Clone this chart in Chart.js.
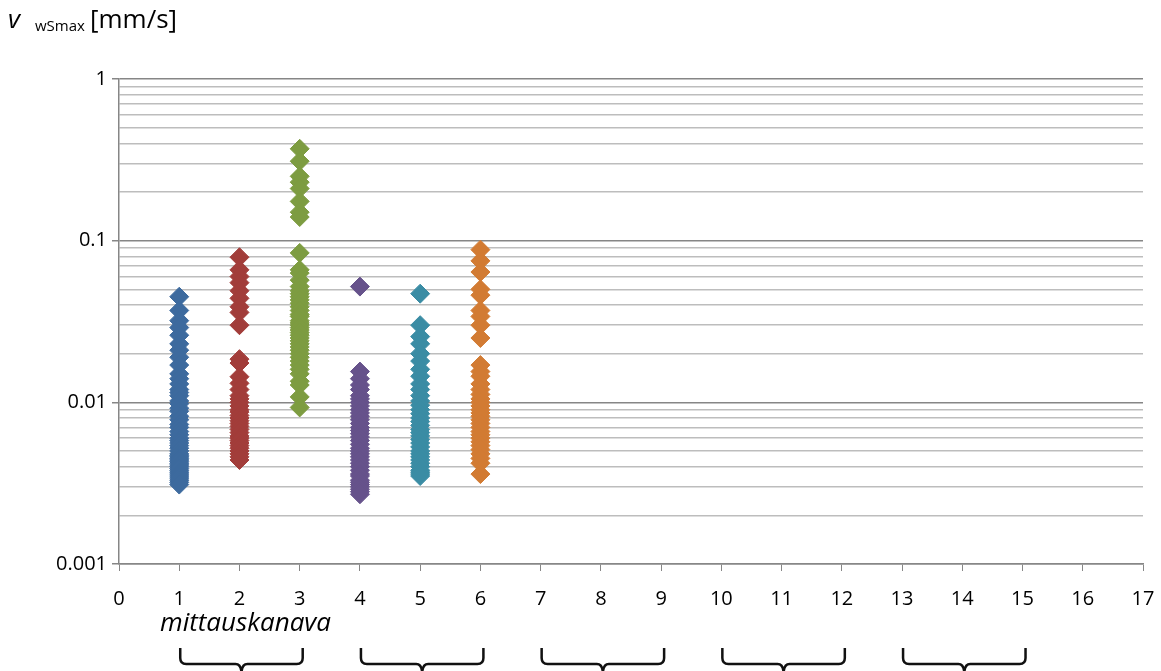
<!DOCTYPE html>
<html>
<head>
<meta charset="utf-8">
<script src="https://cdn.jsdelivr.net/npm/chart.js@4"></script>
<style>
  html, body { margin: 0; padding: 0; background: #fff; }
  canvas { display: block; }
</style>
</head>
<body>
<canvas id="chart" width="1161" height="671"></canvas>
<script>
const ch1 = [0.045, 0.037, 0.032, 0.029, 0.026, 0.023, 0.021, 0.019, 0.017, 0.015, 0.014, 0.013,
  0.012, 0.0115, 0.011, 0.0102, 0.0098, 0.0092, 0.0088, 0.0082, 0.0078, 0.0073, 0.007, 0.0066,
  0.0063, 0.006, 0.0058, 0.0056, 0.0054, 0.0052, 0.005, 0.0048, 0.0047, 0.0046, 0.0045, 0.0044,
  0.0043, 0.0042, 0.0041, 0.004, 0.0039, 0.0038, 0.0037, 0.0036, 0.0035, 0.0034, 0.0033, 0.0032, 0.0031];
const ch2 = [0.079, 0.066, 0.06, 0.055, 0.049, 0.044, 0.039, 0.036, 0.030,
  0.0185, 0.0175, 0.0144, 0.0131, 0.012, 0.011, 0.0105, 0.01, 0.0095, 0.009, 0.0087, 0.0083,
  0.008, 0.0077, 0.0074, 0.0071, 0.0068, 0.0065, 0.0062, 0.006, 0.0058, 0.0056, 0.0054,
  0.0052, 0.005, 0.0048, 0.0046, 0.0044];
const ch3 = [0.37, 0.31, 0.25, 0.23, 0.21, 0.175, 0.15, 0.14, 0.084, 0.066, 0.063, 0.057,
  0.052, 0.049, 0.047, 0.045, 0.043, 0.041, 0.039, 0.037, 0.035, 0.034, 0.032, 0.031, 0.03,
  0.029, 0.028, 0.027, 0.026, 0.025, 0.024, 0.023, 0.022, 0.021, 0.02, 0.019, 0.018, 0.017,
  0.016, 0.015, 0.0135, 0.0128, 0.0108, 0.0093];
const ch4 = [0.052, 0.0155, 0.014, 0.0128, 0.012, 0.011, 0.0105, 0.01, 0.0095, 0.009, 0.0086,
  0.0082, 0.0078, 0.0074, 0.007, 0.0067, 0.0064, 0.0061, 0.0058, 0.0055, 0.0052, 0.005, 0.0048,
  0.0046, 0.0044, 0.0042, 0.004, 0.0038, 0.0036, 0.0035, 0.0033, 0.0032, 0.0031, 0.003, 0.0029,
  0.0028, 0.0027];
const ch5 = [0.047, 0.030, 0.0255, 0.023, 0.02, 0.018, 0.016, 0.0145, 0.013, 0.012, 0.011,
  0.0102, 0.0096, 0.009, 0.0085, 0.008, 0.0076, 0.0072, 0.0068, 0.0065, 0.0062, 0.0059, 0.0056,
  0.0053, 0.005, 0.0048, 0.0046, 0.0044, 0.0042, 0.004, 0.0038, 0.0037, 0.0036, 0.0035];
const ch6 = [0.088, 0.075, 0.064, 0.05, 0.046, 0.037, 0.034, 0.03, 0.025,
  0.017, 0.0155, 0.0145, 0.013, 0.012, 0.0112, 0.0105, 0.01, 0.0095, 0.009, 0.0086, 0.0082,
  0.0078, 0.0074, 0.007, 0.0066, 0.0063, 0.006, 0.0057, 0.0054, 0.0051, 0.0048, 0.0045,
  0.0042, 0.0036];

const channels = [1, 2, 3, 4, 5, 6];
const channelValues = [ch1, ch2, ch3, ch4, ch5, ch6];
const colors = ['#3d6a9e', '#a23d3a', '#7d9c41', '#66528b', '#3a8ca4', '#d27b33'];

const yMin = 0.001;
const yMax = 1;
const xMin = 0;
const xMax = 17;
const braceGroups = [[1, 3], [4, 6], [7, 9], [10, 12], [13, 15]];
const axisNote = 'mittauskanava';

const FONT = '"Open Sans", "DejaVu Sans", sans-serif';
const isDecade = v => Math.abs(Math.log10(v) - Math.round(Math.log10(v))) < 1e-9;

const extras = {
  id: 'extras',
  afterDraw(chart) {
    const { ctx } = chart;
    const x = chart.scales.x;
    ctx.save();
    ctx.fillStyle = '#000';
    ctx.textBaseline = 'alphabetic';
    // y axis title
    ctx.font = 'italic 26px ' + FONT;
    ctx.fillText('v', 8, 28);
    ctx.font = '15px ' + FONT;
    ctx.fillText('wSmax', 35, 31);
    ctx.font = '26px ' + FONT;
    ctx.fillText('[mm/s]', 90, 28);

    // x axis note
    ctx.font = 'italic 26px ' + FONT;
    ctx.textAlign = 'center';
    ctx.fillText(axisNote, x.getPixelForValue(2.1), 631);

    // braces under channel groups
    ctx.strokeStyle = '#111';
    ctx.lineWidth = 2.5;
    ctx.lineJoin = 'round';
    braceGroups.forEach(([a, b]) => {
      const x1 = x.getPixelForValue(a) + 1;
      const x2 = x.getPixelForValue(b) + 3;
      const xm = (x1 + x2) / 2;
      const top = 648, hy = 664, r = 6;
      ctx.beginPath();
      ctx.moveTo(x1, top);
      ctx.lineTo(x1, hy - r);
      ctx.quadraticCurveTo(x1, hy, x1 + r, hy);
      ctx.lineTo(xm - r, hy);
      ctx.quadraticCurveTo(xm, hy, xm, hy + 10);
      ctx.moveTo(xm, hy + 10);
      ctx.quadraticCurveTo(xm, hy, xm + r, hy);
      ctx.lineTo(x2 - r, hy);
      ctx.quadraticCurveTo(x2, hy, x2, hy - r);
      ctx.lineTo(x2, top);
      ctx.stroke();
    });
    ctx.restore();
  }
};

new Chart(document.getElementById('chart'), {
  type: 'scatter',
  data: {
    datasets: channels.map((c, i) => ({
      label: 'Kanava ' + c,
      data: channelValues[i].map(v => ({ x: c, y: v })),
      pointStyle: 'rectRot',
      pointRadius: 9.5,
      pointHoverRadius: 9.5,
      backgroundColor: colors[i],
      borderColor: colors[i],
      borderWidth: 1
    }))
  },
  options: {
    responsive: false,
    animation: false,
    devicePixelRatio: 1,
    layout: { padding: { top: 79, right: 18, bottom: 0, left: 0 } },
    plugins: {
      legend: { display: false },
      tooltip: { enabled: false }
    },
    scales: {
      x: {
        type: 'linear',
        min: xMin,
        max: xMax,
        afterFit: s => { s.height = 107; s.paddingLeft = 0; s.paddingRight = 0; },
        ticks: {
          stepSize: 1,
          color: '#000',
          padding: 16,
          maxRotation: 0,
          font: { family: FONT, size: 20 }
        },
        grid: {
          drawOnChartArea: false,
          drawTicks: true,
          tickLength: 7,
          color: '#878787'
        },
        border: { color: '#878787', width: 1.5 }
      },
      y: {
        type: 'logarithmic',
        min: yMin,
        max: yMax,
        afterFit: s => { s.width = 119; s.paddingTop = 0; s.paddingBottom = 0; },
        afterBuildTicks: s => {
          const t = [];
          for (let d = yMin; d < yMax * 0.99; d *= 10) {
            for (let m = 1; m <= 9; m++) t.push({ value: +(d * m).toPrecision(6) });
          }
          t.push({ value: yMax });
          s.ticks = t;
        },
        ticks: {
          autoSkip: false,
          color: '#000',
          padding: 5,
          font: { family: FONT, size: 20 },
          callback: v => (isDecade(v) ? String(v) : '')
        },
        grid: {
          color: c => (c.tick && isDecade(c.tick.value) ? '#868686' : '#bdbdbd'),
          tickColor: c => (c.tick && isDecade(c.tick.value) ? '#868686' : 'rgba(0,0,0,0)'),
          lineWidth: 1.5,
          tickLength: 7
        },
        border: { color: '#868686', width: 1.5 }
      }
    }
  },
  plugins: [extras]
});
</script>
</body>
</html>
